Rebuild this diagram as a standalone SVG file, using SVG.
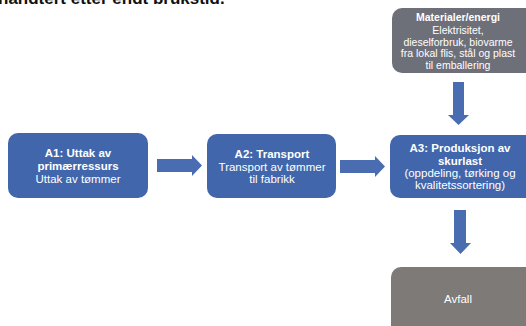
<svg xmlns="http://www.w3.org/2000/svg" width="526" height="326" viewBox="0 0 526 326">
<defs>
<style>
.blue{fill:#4166AC}
.arr{fill:#4A6DB2}
.t{font-family:"Liberation Sans",Arial,sans-serif;fill:#fff;text-anchor:middle;font-size:11.5px}
.b{font-weight:bold}
.s{font-size:10.5px}
</style>
</defs>
<rect width="526" height="326" fill="#fff"/>
<text x="-2" y="4" font-family="Liberation Sans,Arial,sans-serif" font-size="17" font-weight="bold" fill="#111">håndtert etter endt brukstid.</text>
<g id="connectors">
<polygon class="arr" points="157,159 192,159 192,155 202,165.5 192,176 192,172 157,172"/>
<polygon class="arr" points="340,160 375,160 375,156 385,166.5 375,177 375,173 340,173"/>
<polygon class="arr" points="453,82 464,82 464,115 469,115 458.5,125 448,115 453,115"/>
<polygon class="arr" points="454,210 466,210 466,243 471,243 460.5,254 450,243 454,243"/>
</g>
<g id="A1">
<rect class="blue" x="8" y="133" width="140" height="65" rx="10"/>
<text class="t b" x="78" y="157">A1: Uttak av</text>
<text class="t b" x="78" y="170">primærressurs</text>
<text class="t" x="78" y="183">Uttak av tømmer</text>
</g>
<g id="A2">
<rect class="blue" x="207" y="134" width="129" height="64" rx="10"/>
<text class="t b" x="272" y="158">A2: Transport</text>
<text class="t" x="272" y="171">Transport av tømmer</text>
<text class="t" x="272" y="183">til fabrikk</text>
</g>
<g id="A3">
<rect class="blue" x="390" y="135" width="145" height="63" rx="10"/>
<text class="t b" x="460" y="152">A3: Produksjon av</text>
<text class="t b" x="460" y="165">skurlast</text>
<text class="t" x="460" y="177">(oppdeling, tørking og</text>
<text class="t" x="460" y="189">kvalitetssortering)</text>
</g>
<g id="materialer">
<rect x="392" y="8" width="145" height="65" rx="10" fill="#6E7079"/>
<text class="t s b" x="458" y="21">Materialer/energi</text>
<text class="t s" x="458" y="34">Elektrisitet,</text>
<text class="t s" x="458" y="46">dieselforbruk, biovarme</text>
<text class="t s" x="458" y="57">fra lokal flis, stål og plast</text>
<text class="t s" x="458" y="69">til emballering</text>
</g>
<g id="avfall">
<rect x="391" y="267" width="145" height="80" rx="10" fill="#7D7A77"/>
<text class="t" x="458" y="303">Avfall</text>
</g>
</svg>
